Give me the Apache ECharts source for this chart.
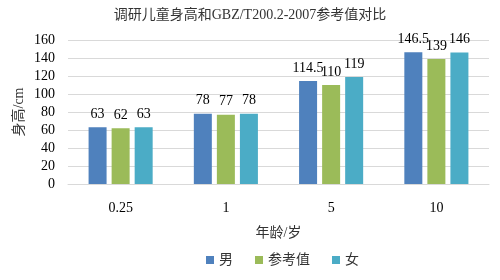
<!DOCTYPE html>
<html>
<head>
<meta charset="UTF-8">
<title>调研儿童身高对比</title>
<style>
html,body{margin:0;padding:0;background:#fff;}
#main{width:500px;height:280px;}
</style>
</head>
<body>
<div id="main"></div>
<script src="https://cdn.jsdelivr.net/npm/echarts@6/dist/echarts.min.js"></script>
<script>
var ages = ['0.25', '1', '5', '10'];
var boys = [63, 78, 114.5, 146.5];
var reference = [62, 77, 110, 139];
var girls = [63, 78, 119, 146];
var yTicks = [0, 20, 40, 60, 80, 100, 120, 140, 160];

var serif = '"Liberation Serif", "Times New Roman", "Noto Sans CJK SC", serif';
var myChart = echarts.init(document.getElementById('main'));

function bar(name, data, color) {
	return {
		name: name,
		type: 'bar',
		data: data,
		barWidth: 18,
		barGap: '28%',
		itemStyle: {color: color},
		label: {
			show: true,
			position: 'top',
			distance: 6,
			color: '#000',
			fontFamily: serif,
			fontSize: 14
		}
	};
}

myChart.setOption({
	animation: false,
	textStyle: {fontFamily: serif},
	title: {
		text: '调研儿童身高和GBZ/T200.2-2007参考值对比',
		left: 'center',
		top: 3,
		textStyle: {fontSize: 14, fontWeight: 'normal', color: '#333', fontFamily: serif}
	},
	legend: {
		bottom: 8,
		left: 201,
		itemWidth: 8,
		itemHeight: 8,
		itemGap: 22,
		icon: 'rect',
		textStyle: {fontSize: 14, color: '#333', fontFamily: serif},
		data: ['男', '参考值', '女']
	},
	grid: {left: 68, right: 11, top: 40, bottom: 96, outerBoundsMode: 'none'},
	xAxis: {
		type: 'category',
		data: ages,
		name: '年龄/岁',
		nameLocation: 'middle',
		nameGap: 42,
		nameTextStyle: {fontSize: 14, color: '#333', fontFamily: serif},
		axisTick: {show: false},
		axisLine: {lineStyle: {color: '#d9d9d9'}},
		axisLabel: {color: '#000', fontSize: 14, margin: 17, fontFamily: serif}
	},
	yAxis: {
		type: 'value',
		min: yTicks[0],
		max: yTicks[yTicks.length - 1],
		interval: 20,
		name: '身高/cm',
		nameLocation: 'middle',
		nameGap: 42,
		nameMoveOverlap: false,
		nameTextStyle: {fontSize: 14, color: '#333', fontFamily: serif},
		axisLine: {show: false},
		axisTick: {show: false},
		splitLine: {lineStyle: {color: '#d9d9d9'}},
		axisLabel: {color: '#000', fontSize: 14, margin: 13, fontFamily: serif}
	},
	series: [
		bar('男', boys, '#4F81BD'),
		bar('参考值', reference, '#9BBB59'),
		bar('女', girls, '#4BACC6')
	]
});
</script>
</body>
</html>
